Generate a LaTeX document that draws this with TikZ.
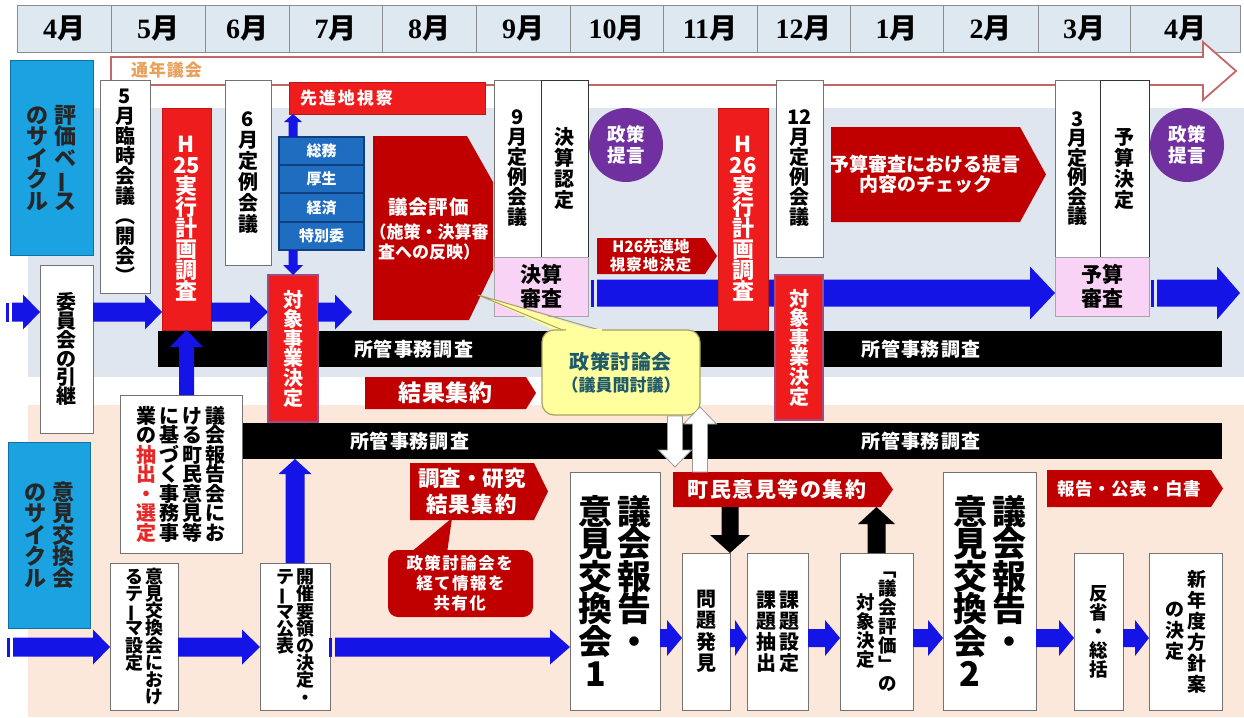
\documentclass[tikz,border=0pt]{standalone}
\usepackage{graphicx}
\usepackage{fontspec}
\setmainfont{Noto Sans CJK JP}
\newfontfamily\serifnum{Liberation Serif}
\usetikzlibrary{calc}
\definecolor{bred}{HTML}{EE1C1C}
\definecolor{dred}{HTML}{C00000}
\definecolor{barblue}{HTML}{1414E6}
\definecolor{stackblue}{HTML}{1F6DC0}
\definecolor{stackdark}{HTML}{0F3F7F}
\definecolor{cyanb}{HTML}{1AA3E0}
\definecolor{cyandark}{HTML}{1070A0}
\definecolor{purp}{HTML}{7030A0}
\definecolor{pinkb}{HTML}{F9D3F5}
\definecolor{bandblue}{HTML}{DFE6F0}
\definecolor{bandpeach}{HTML}{FCE8DB}
\definecolor{headfill}{HTML}{DDE8F0}
\definecolor{callyellow}{HTML}{FFFF9E}
\definecolor{callborder}{HTML}{A8A060}
\definecolor{tealtxt}{HTML}{1E5A6A}
\definecolor{orangetxt}{HTML}{E8A05A}
\definecolor{arrowout}{HTML}{C26868}
\definecolor{tzborder}{HTML}{A24A82}
\definecolor{hlred}{HTML}{E82828}
\newcommand\fs[2]{\fontsize{#1}{#2}\selectfont}
\newcommand\vbar{\rotatebox[origin=c]{90}{ー}}
\newcommand\R{\color{hlred}}
\ExplSyntaxOn
\NewDocumentCommand\vcol{O{20pt}m}{\vtop{\baselineskip=#1\relax\lineskiplimit=-100pt\lineskip=0pt\tl_map_inline:nn{#2}{\hbox_to_wd:nn{1em}{\hss##1\hss}}}}
\NewDocumentCommand\vcolc{O{20pt}m}{\ensuremath{\vcenter{\vcol[#1]{#2}}}}
\NewDocumentCommand\lsp{O{2pt}m}{\tl_map_inline:nn{#2}{##1\hskip#1\relax}\hskip-#1\relax}
\ExplSyntaxOff
% box node by corners: [style]{name}{x1}{y1}{x2}{y2}{text}
\newcommand\bx[7][]{%
  \pgfmathsetmacro\bxw{#5-#3}\pgfmathsetmacro\bxh{#6-#4}%
  \node[#1,minimum width=\bxw pt,minimum height=\bxh pt] (#2) at ({(#3+#5)/2},{(#4+#6)/2}) {#7};}
% pentagon arrow: [node style]{name}{x1}{y1}{x2}{y2}{depth}{text}
\newcommand\pent[8][]{%
  \fill[dred] (#3,#4) -- ({#5-#7},#4) -- (#5,{(#4+#6)/2}) -- ({#5-#7},#6) -- (#3,#6) -- cycle;
  \pgfmathsetmacro\bxw{#5-#7-#3}\pgfmathsetmacro\bxh{#6-#4}%
  \node[ptext,#1,minimum width=\bxw pt,minimum height=\bxh pt] (#2) at ({(#3+#5-#7)/2},{(#4+#6)/2}) {#8};}
% horizontal block arrow: [style]{from}{to}{bar half}{head half}{head length}
\newcommand\hba[6][fill=barblue]{\path[#1] let \p1=(#2), \p2=(#3) in
  (\x1,{\y1+#4}) -- ({\x2-#6},{\y1+#4}) -- ({\x2-#6},{\y1+#5}) -- (\x2,\y1) --
  ({\x2-#6},{\y1-#5}) -- ({\x2-#6},{\y1-#4}) -- (\x1,{\y1-#4}) -- cycle;}
% vertical block arrow
\newcommand\vba[6][fill=barblue]{\path[#1] let \p1=(#2), \p2=(#3), \n1={sign(\y2-\y1)} in
  ({\x1-#4},\y1) -- ({\x1-#4},{\y2-\n1*#6}) -- ({\x1-#5},{\y2-\n1*#6}) -- (\x1,\y2) --
  ({\x1+#5},{\y2-\n1*#6}) -- ({\x1+#4},{\y2-\n1*#6}) -- ({\x1+#4},\y1) -- cycle;}
\newcommand\tailbar[2]{\fill[barblue] let \p1=(#1) in ({\x1-6pt},{\y1-#2}) rectangle ({\x1-3.5pt},{\y1+#2});}
\begin{document}
\begin{tikzpicture}[x=1pt,y=-1pt,
  every node/.style={inner sep=0pt,outer sep=0pt},
  hcell/.style={fill=headfill,draw=black!45,line width=0.6pt,font=\fs{28}{30}},
  wbox/.style={draw=black!55,fill=white,line width=0.9pt,font=\fs{20}{22}\bfseries},
  rbox/.style={fill=bred,draw=bred!80!black,line width=0.6pt,text=white,font=\fs{20}{22}\bfseries},
  tzbox/.style={rbox,draw=tzborder,line width=1.2pt},
  pinkbox/.style={fill=pinkb,draw=black!35,line width=0.6pt,align=center,font=\fs{21}{24}\bfseries},
  stackbox/.style={fill=stackblue,draw=stackdark,line width=1.2pt,text=white,font=\fs{15}{16}\bfseries},
  cyanbox/.style={fill=cyanb,draw=cyandark,line width=1pt,text=black!85,font=\fs{22}{23}\bfseries},
  blackbar/.style={fill=black},
  bartext/.style={text=white,font=\fs{19}{21}\bfseries},
  ptext/.style={text=white,align=center,font=\fs{18}{21}\bfseries},
  circ/.style={circle,fill=purp,minimum size=74pt,text=white,align=center,font=\fs{18.5}{21}\bfseries},
  whitearrow/.style={fill=white,draw=black!40,line width=0.8pt}
]
\useasboundingbox (0,0) rectangle (1244,717);
\fill[white] (0,0) rectangle (1244,717);
% bands
\fill[bandblue] (28,108) rectangle (1244,377);
\fill[bandpeach] (28,405) rectangle (1244,717);
% header
\foreach \a/\b/\t [count=\i] in {17/111/4,111/205/5,205/289/6,289/382/7,382/476/8,476/570/9,570/663/10,663/757/11,757/850/12,850/943/1,943/1038/2,1038/1130/3,1130/1240/4}
  {\bx[hcell]{m\i}{\a}{5}{\b}{52}{{\serifnum\bfseries\t}{\bfseries 月}}}
% year-round assembly arrow
\draw[fill=white,draw=arrowout,line width=1.8pt] (111,57) -- (1203,57) -- (1203,42) -- (1236,71) -- (1203,100) -- (1203,85) -- (111,85) -- cycle;
\node[text=orangetxt,font=\fs{17}{19}\bfseries,anchor=west] (tsunen) at (131,70) {\lsp[1pt]{通年議会}};
% cycle labels
\bx[cyanbox]{cyc1}{10}{61}{93}{255}{\vcol[21.5pt]{のサイクル}\hskip6pt\vcol[21.5pt]{評価ベ{\vbar}ス}}
\bx[cyanbox]{cyc2}{8}{442}{90}{628}{\vcol[21.5pt]{のサイクル}\hskip6pt\vcol[21.5pt]{意見交換会}}
% upper white boxes
\bx[wbox]{rinji}{100}{80}{150}{293}{\vcol[20pt]{5月臨時会議︵開会︶}}
\bx[wbox]{teirei6}{225}{80}{271}{265}{\vcol[21pt]{6月定例会議}}
\bx[wbox]{teirei9}{494}{80}{541}{257}{\vcol[20pt]{9月定例会議}}
\bx[wbox,draw=black!80]{kessan}{541}{80}{588}{257}{\vcol[21pt]{決算認定}}
\bx[wbox]{teirei12}{776}{80}{823}{257}{\vcol[20pt]{{12}月定例会議}}
\bx[wbox]{teirei3}{1055}{80}{1100}{257}{\vcol[19.5pt]{3月定例会議}}
\bx[wbox,draw=black!80]{yosan}{1100}{80}{1149}{257}{\vcol[21pt]{予算決定}}
\bx[pinkbox]{kessansa}{494}{257}{588}{316}{決算\\審査}
\bx[pinkbox]{yosansa}{1055}{257}{1149}{316}{予算\\審査}
\bx[wbox]{iin}{40}{265}{93}{433}{\vcol[18.8pt]{委員会の引継}}
% site visit bar
\bx[rbox]{sensin}{289}{82}{485}{114}{}
\node[text=white,font=\fs{17}{19}\bfseries,anchor=west] (sensint) at (300,98) {\lsp[2pt]{先進地視察}};
% committees stack
\bx[stackbox]{st1}{279}{137}{364}{165}{総務}
\bx[stackbox]{st2}{279}{165}{364}{193}{厚生}
\bx[stackbox]{st3}{279}{193}{364}{222}{経済}
\bx[stackbox]{st4}{279}{222}{364}{250}{特別委}
% black bars
\bx[blackbar]{kb1}{158}{331}{1222}{367}{}
\node[bartext] (kb1a) at (414,349) {\lsp[1pt]{所管事務調査}};
\node[bartext] (kb1b) at (921,349) {\lsp[1pt]{所管事務調査}};
\bx[blackbar]{kb2}{240}{423}{1222}{459}{}
\node[bartext] (kb2a) at (410,441) {\lsp[1pt]{所管事務調査}};
\node[bartext] (kb2b) at (921,441) {\lsp[1pt]{所管事務調査}};
% row coordinates
\coordinate (row1) at (0,312);
\coordinate (row1b) at (0,293);
\coordinate (row2) at (0,647);
\coordinate (row2b) at (0,638);
% long blue bar (behind red boxes)
\coordinate (lb1) at (597,293);
\hba{lb1}{yosansa.west |- row1b}{13.5pt}{26.5pt}{25pt}
\tailbar{lb1}{13.5pt}
\coordinate (lb2s) at (1157,293);
\coordinate (lb2e) at (1240,293);
\hba{lb2s}{lb2e}{13.5pt}{26.5pt}{23pt}
\tailbar{lb2s}{13.5pt}
% red boxes
\bx[rbox]{h25}{162}{108}{211}{330}{\fs{22}{22}\vcol[21pt]{H{25}実行計画調査}}
\bx[rbox]{h26}{718}{108}{768}{330}{\fs{22}{22}\vcol[21pt]{H{26}実行計画調査}}
\bx[tzbox]{tz1}{268}{275}{318}{422}{\vcol[19.6pt]{対象事業決定}}
\bx[tzbox]{tz2}{775}{275}{823}{420}{\vcol[19.6pt]{対象事業決定}}
% council evaluation
\fill[dred] (373,136) -- (467,136) -- (493,182) -- (493,270) -- (469,320) -- (373,320) -- cycle;
\node[ptext,font=\fs{17}{20}\bfseries] (hyoka) at (429,229) {{\fs{19.5}{21}\bfseries\lsp[1pt]{議会評価}}\\[4pt]（施策・決算審\\査への反映）};
\pent[font=\fs{15.5}{18}\bfseries]{h26s}{597}{238}{717}{274}{12}{H26先進地\\\lsp[1pt]{視察地決定}}
\pent[font=\fs{19}{20}\bfseries]{yteigen}{831}{127}{1046}{222}{26}{予算審査における提言\\内容のチェック}
\pent[font=\fs{23}{24}\bfseries]{kekka}{365}{377}{536}{409}{10}{\lsp[0.5pt]{結果集約}}
% policy proposal circles
\node[circ] (teigen1) at (626,145) {政策\\提言};
\node[circ] (teigen2) at (1187,145) {政策\\提言};
% lower boxes
\bx[wbox]{giho}{120}{395}{242}{553}{\vcol[19.5pt]{業の{\R 抽}{\R 出}{\R ・}{\R 選}{\R 定}}\hskip3pt\vcol[19.5pt]{に基づく事務事}\hskip3pt\vcol[19.5pt]{ける町民意見等}\hskip3pt\vcol[19.5pt]{議会報告会にお}}
\bx[wbox,font=\fs{18}{19}\bfseries]{theme}{110}{563}{178}{710}{\vcol[17.2pt]{るテ{\vbar}マ設定}\hskip2pt\vcol[17.2pt]{意見交換会におけ}}
\bx[wbox,font=\fs{18}{19}\bfseries]{kaisai}{260}{563}{330}{710}{\vcol[17.2pt]{テ{\vbar}マ公表}\hskip2pt\vcol[17.2pt]{開催要領の決定・}}
\bx[wbox,font=\fs{34}{36}\bfseries]{box1}{570}{472}{660}{710}{\vcol[32.5pt]{意見交換会1}\hskip5pt\vcol[32.5pt]{議会報告・}}
\bx[wbox]{mon}{682}{553}{730}{710}{\vcol[21.5pt]{問題発見}}
\bx[wbox]{kadai}{747}{553}{808}{710}{\vcol[21pt]{課題抽出}\hskip3pt\vcol[21pt]{課題設定}}
\bx[wbox,font=\fs{18.5}{20}\bfseries]{taisho}{840}{553}{913}{710}{\vcolc[19pt]{対象決定}\hskip4pt\vcolc[19pt]{﹁議会評価﹂の}}
\bx[wbox,font=\fs{34}{36}\bfseries]{box2}{943}{472}{1036}{710}{\vcol[32.5pt]{意見交換会2}\hskip5pt\vcol[32.5pt]{議会報告・}}
\bx[wbox,font=\fs{18.5}{20}\bfseries]{hansei}{1074}{553}{1123}{710}{\vcol[19pt]{反省・総括}}
\bx[wbox,font=\fs{19}{21}\bfseries]{shin}{1149}{553}{1222}{710}{\vcolc[21pt]{の決定}\hskip3pt\vcolc[21pt]{新年度方針案}}
% lower pentagons
\pent[font=\fs{21.5}{26}\bfseries]{chosa}{410}{463}{548}{520}{14}{調査・研究\\\lsp[1.5pt]{結果集約}}
\pent[font=\fs{21}{22}\bfseries]{chomin}{673}{472}{893}{507}{12}{\lsp[1.5pt]{町民意見等の集約}}
\pent[font=\fs{17.5}{19}\bfseries]{hokoku}{1047}{470}{1223}{507}{12}{\lsp[0.5pt]{報告・公表・白書}}
% red callout
\fill[dred] (410,553) -- (452,518) -- (447,553) -- cycle;
\node[fill=dred,rounded corners=10pt,minimum width=145pt,minimum height=67pt,text=white,align=center,font=\fs{16.5}{20}\bfseries] (kyoyu) at (460.5,583.5) {\lsp[1.5pt]{政策討論会を}\\\lsp[1.5pt]{経て情報を}\\\lsp[1.5pt]{共有化}};
% yellow callout
\coordinate (ptip) at (478,295);
\fill[callyellow] (563,334) -- (ptip) -- (605,334) -- cycle;
\draw[callborder,line width=1pt] (565,331) -- (ptip) -- (603,331);
\node[fill=callyellow,draw=callborder,line width=1.2pt,rounded corners=12pt,minimum width=158pt,minimum height=85pt,text=tealtxt,align=center,font=\fs{17}{22}\bfseries] (touron) at (621,372.5) {{\fs{20}{22}\bfseries\lsp[0.5pt]{政策討論会}}\\（議員間討議）};
\fill[callyellow] (566,329) rectangle (602,333);
% upper row blue arrows
\coordinate (t1) at (12,312);
\hba{t1}{iin.west |- row1}{9.5pt}{17.5pt}{17pt}
\tailbar{t1}{9.5pt}
\hba{iin.east |- row1}{h25.west |- row1}{9.5pt}{17.5pt}{17pt}
\hba{h25.east |- row1}{tz1.west |- row1}{9.5pt}{17.5pt}{18pt}
\coordinate (a4e) at (352,312);
\hba{tz1.east |- row1}{a4e}{9.5pt}{17.5pt}{17pt}
% vertical blue arrows
\vba{tz1.north |- st1.north}{tz1.north |- sensin.south}{4.5pt}{9pt}{8pt}
\vba{tz1.north |- st4.south}{tz1.north}{4.5pt}{10pt}{10pt}
\vba{h25.south |- giho.north}{h25.south}{7.5pt}{16.5pt}{17pt}
\vba{kaisai.north}{kaisai.north |- kb2.south}{9.5pt}{16.5pt}{15pt}
% lower row blue arrows
\coordinate (t2) at (13,647);
\hba{t2}{theme.west |- row2}{9.5pt}{17.5pt}{17pt}
\tailbar{t2}{9.5pt}
\hba{theme.east |- row2}{kaisai.west |- row2}{9.5pt}{17.5pt}{18pt}
\coordinate (t3) at (335,647);
\hba{t3}{box1.west |- row2}{9.5pt}{17.5pt}{20pt}
\tailbar{t3}{9.5pt}
\hba{box1.east |- row2b}{mon.west |- row2b}{9pt}{18pt}{15pt}
\hba{mon.east |- row2b}{kadai.west |- row2b}{9pt}{18pt}{12pt}
\hba{kadai.east |- row2b}{taisho.west |- row2b}{9pt}{18pt}{15pt}
\hba{taisho.east |- row2b}{box2.west |- row2b}{9pt}{18pt}{15pt}
\hba{box2.east |- row2b}{hansei.west |- row2b}{9pt}{18pt}{15pt}
\hba{hansei.east |- row2b}{shin.west |- row2b}{9pt}{18pt}{14pt}
% white arrows between callout and citizens' opinions
\coordinate (wa1s) at (675,416);
\coordinate (wa1e) at (675,467);
\vba[whitearrow]{wa1s}{wa1e}{7.5pt}{16.5pt}{17pt}
\coordinate (wa2s) at (700,472);
\coordinate (wa2e) at (700,407);
\vba[whitearrow]{wa2s}{wa2e}{7.5pt}{16.5pt}{17pt}
% black arrows
\vba[fill=black]{chomin.south -| mon.east}{mon.north east}{8.5pt}{20pt}{18pt}
\vba[fill=black]{taisho.north}{taisho.north |- chomin.south}{9pt}{18.5pt}{17pt}
\end{tikzpicture}
\end{document}
